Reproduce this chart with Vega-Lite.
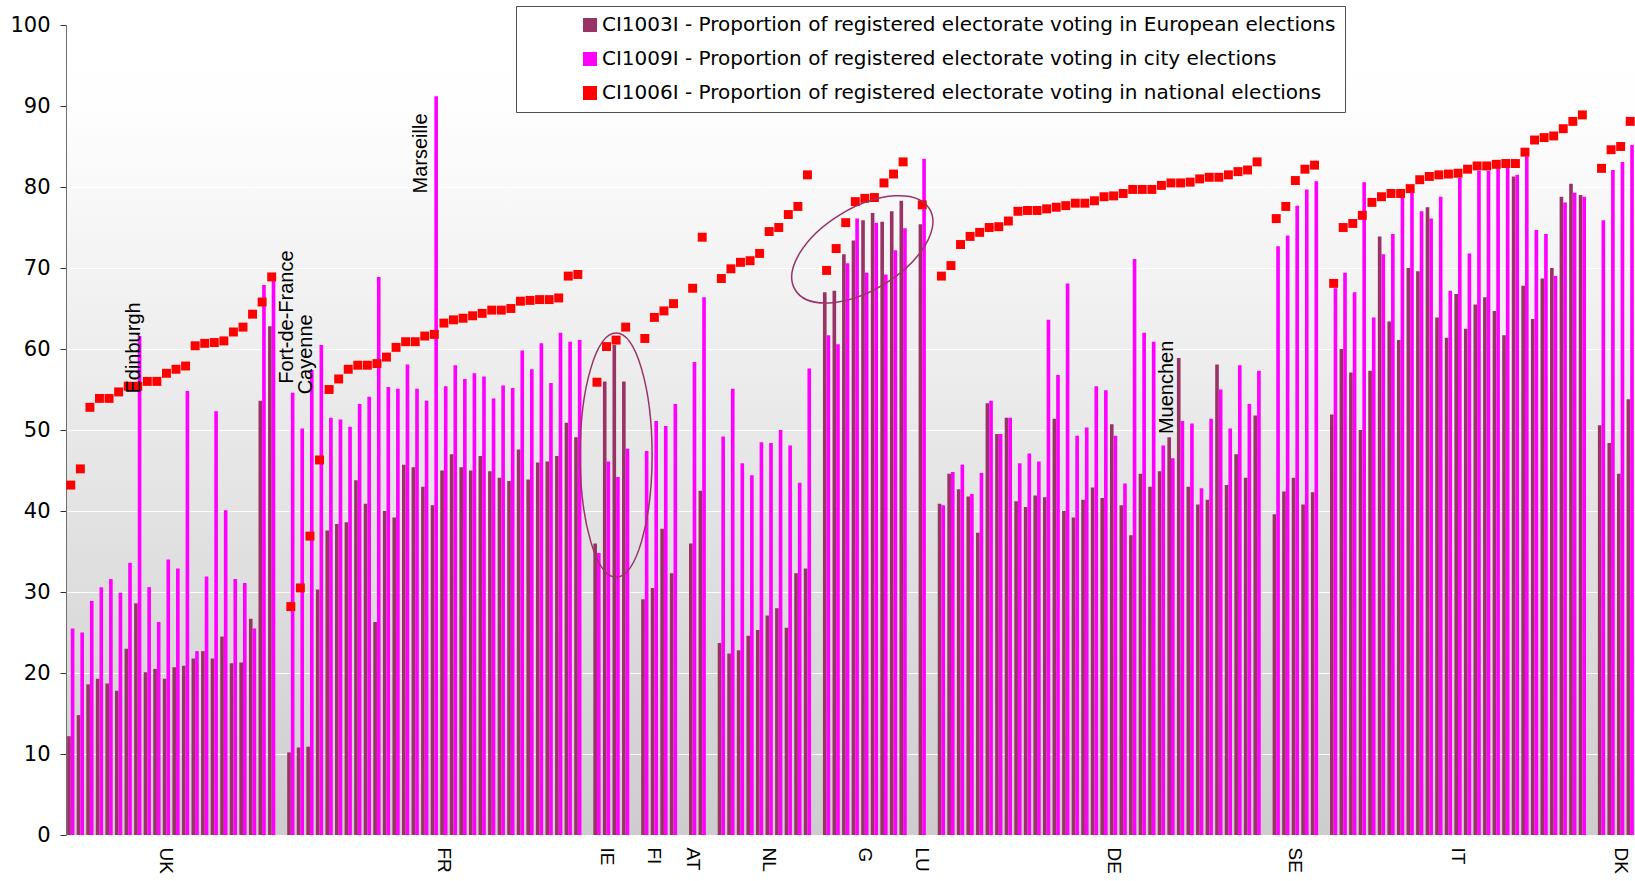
{
  "$schema": "https://vega.github.io/schema/vega-lite/v6.json",
  "width": 1569,
  "height": 810,
  "autosize": {"type": "none"},
  "padding": {"left": 66, "top": 25, "right": 0, "bottom": 46},
  "background": "white",
  "config": {
    "font": "Liberation Sans",
    "view": {"stroke": null, "fill": {"gradient": "linear", "x1": 0, "y1": 0, "x2": 0, "y2": 1, "stops": [{"offset": 0, "color": "#ffffff"}, {"offset": 0.1, "color": "#fefefe"}, {"offset": 1, "color": "#cdcdcd"}]}}
  },
  "data": {"values": [
    {"slot":1,"country":"UK","eu":12.2,"city":25.5,"nat":43.2},
    {"slot":2,"country":"UK","eu":14.8,"city":25.0,"nat":45.2},
    {"slot":3,"country":"UK","eu":18.6,"city":28.9,"nat":52.8},
    {"slot":4,"country":"UK","eu":19.3,"city":30.6,"nat":53.9},
    {"slot":5,"country":"UK","eu":18.7,"city":31.6,"nat":53.9},
    {"slot":6,"country":"UK","eu":17.8,"city":29.9,"nat":54.7},
    {"slot":7,"country":"UK","eu":23.0,"city":33.6,"nat":55.4},
    {"slot":8,"country":"UK","eu":28.6,"city":61.6,"nat":55.4},
    {"slot":9,"country":"UK","eu":20.1,"city":30.6,"nat":56.0},
    {"slot":10,"country":"UK","eu":20.5,"city":26.3,"nat":56.0},
    {"slot":11,"country":"UK","eu":19.3,"city":34.0,"nat":57.0},
    {"slot":12,"country":"UK","eu":20.7,"city":32.9,"nat":57.5},
    {"slot":13,"country":"UK","eu":20.9,"city":54.8,"nat":57.9},
    {"slot":14,"country":"UK","eu":21.8,"city":22.7,"nat":60.4},
    {"slot":15,"country":"UK","eu":22.7,"city":31.9,"nat":60.7},
    {"slot":16,"country":"UK","eu":21.8,"city":52.3,"nat":60.8},
    {"slot":17,"country":"UK","eu":24.5,"city":40.1,"nat":61.0},
    {"slot":18,"country":"UK","eu":21.2,"city":31.6,"nat":62.1},
    {"slot":19,"country":"UK","eu":21.3,"city":31.1,"nat":62.7},
    {"slot":20,"country":"UK","eu":26.7,"city":25.5,"nat":64.3},
    {"slot":21,"country":"UK","eu":53.6,"city":67.9,"nat":65.8},
    {"slot":22,"country":"UK","eu":62.8,"city":68.6,"nat":68.9},
    {"slot":24,"country":"FR","eu":10.2,"city":54.6,"nat":28.2},
    {"slot":25,"country":"FR","eu":10.8,"city":50.2,"nat":30.5},
    {"slot":26,"country":"FR","eu":10.9,"city":57.4,"nat":36.9},
    {"slot":27,"country":"FR","eu":30.3,"city":60.5,"nat":46.3},
    {"slot":28,"country":"FR","eu":37.6,"city":51.5,"nat":55.0},
    {"slot":29,"country":"FR","eu":38.4,"city":51.3,"nat":56.3},
    {"slot":30,"country":"FR","eu":38.6,"city":50.4,"nat":57.5},
    {"slot":31,"country":"FR","eu":43.8,"city":53.2,"nat":58.0},
    {"slot":32,"country":"FR","eu":40.9,"city":54.1,"nat":58.0},
    {"slot":33,"country":"FR","eu":26.3,"city":68.9,"nat":58.2},
    {"slot":34,"country":"FR","eu":40.0,"city":55.3,"nat":59.0},
    {"slot":35,"country":"FR","eu":39.2,"city":55.1,"nat":60.2},
    {"slot":36,"country":"FR","eu":45.7,"city":58.1,"nat":60.9},
    {"slot":37,"country":"FR","eu":45.4,"city":55.1,"nat":60.9},
    {"slot":38,"country":"FR","eu":43.0,"city":53.6,"nat":61.6},
    {"slot":39,"country":"FR","eu":40.7,"city":91.2,"nat":61.8},
    {"slot":40,"country":"FR","eu":45.0,"city":55.4,"nat":63.2},
    {"slot":41,"country":"FR","eu":47.0,"city":58.0,"nat":63.6},
    {"slot":42,"country":"FR","eu":45.4,"city":56.3,"nat":63.8},
    {"slot":43,"country":"FR","eu":45.0,"city":57.0,"nat":64.1},
    {"slot":44,"country":"FR","eu":46.8,"city":56.6,"nat":64.4},
    {"slot":45,"country":"FR","eu":44.9,"city":53.9,"nat":64.8},
    {"slot":46,"country":"FR","eu":44.1,"city":55.5,"nat":64.8},
    {"slot":47,"country":"FR","eu":43.7,"city":55.2,"nat":65.0},
    {"slot":48,"country":"FR","eu":47.6,"city":59.8,"nat":65.9},
    {"slot":49,"country":"FR","eu":43.9,"city":57.5,"nat":66.0},
    {"slot":50,"country":"FR","eu":46.0,"city":60.7,"nat":66.1},
    {"slot":51,"country":"FR","eu":46.1,"city":55.8,"nat":66.1},
    {"slot":52,"country":"FR","eu":46.8,"city":62.0,"nat":66.3},
    {"slot":53,"country":"FR","eu":50.9,"city":60.9,"nat":69.0},
    {"slot":54,"country":"FR","eu":49.1,"city":61.1,"nat":69.2},
    {"slot":56,"country":"IE","eu":36.0,"city":34.8,"nat":55.9},
    {"slot":57,"country":"IE","eu":56.0,"city":46.1,"nat":60.3},
    {"slot":58,"country":"IE","eu":60.5,"city":44.2,"nat":61.1},
    {"slot":59,"country":"IE","eu":56.0,"city":47.7,"nat":62.7},
    {"slot":61,"country":"FI","eu":29.1,"city":47.4,"nat":61.3},
    {"slot":62,"country":"FI","eu":30.5,"city":51.1,"nat":63.9},
    {"slot":63,"country":"FI","eu":37.8,"city":50.5,"nat":64.7},
    {"slot":64,"country":"FI","eu":32.3,"city":53.2,"nat":65.6},
    {"slot":66,"country":"AT","eu":36.0,"city":58.4,"nat":67.5},
    {"slot":67,"country":"AT","eu":42.5,"city":66.4,"nat":73.8},
    {"slot":69,"country":"NL","eu":23.7,"city":49.2,"nat":68.7},
    {"slot":70,"country":"NL","eu":22.4,"city":55.1,"nat":69.9},
    {"slot":71,"country":"NL","eu":22.8,"city":45.9,"nat":70.7},
    {"slot":72,"country":"NL","eu":24.6,"city":44.4,"nat":70.9},
    {"slot":73,"country":"NL","eu":25.3,"city":48.5,"nat":71.8},
    {"slot":74,"country":"NL","eu":27.1,"city":48.4,"nat":74.5},
    {"slot":75,"country":"NL","eu":28.0,"city":50.0,"nat":75.0},
    {"slot":76,"country":"NL","eu":25.6,"city":48.1,"nat":76.6},
    {"slot":77,"country":"NL","eu":32.3,"city":43.5,"nat":77.6},
    {"slot":78,"country":"NL","eu":32.9,"city":57.6,"nat":81.5},
    {"slot":80,"country":"G","eu":67.0,"city":61.7,"nat":69.7},
    {"slot":81,"country":"G","eu":67.2,"city":60.6,"nat":72.4},
    {"slot":82,"country":"G","eu":71.7,"city":70.6,"nat":75.6},
    {"slot":83,"country":"G","eu":73.4,"city":76.1,"nat":78.2},
    {"slot":84,"country":"G","eu":75.9,"city":69.4,"nat":78.6},
    {"slot":85,"country":"G","eu":76.8,"city":75.6,"nat":78.7},
    {"slot":86,"country":"G","eu":75.7,"city":69.2,"nat":80.5},
    {"slot":87,"country":"G","eu":77.0,"city":72.2,"nat":81.6},
    {"slot":88,"country":"G","eu":78.3,"city":74.9,"nat":83.1},
    {"slot":90,"country":"LU","eu":75.4,"city":83.5,"nat":77.8},
    {"slot":92,"country":"DE","eu":40.9,"city":40.7,"nat":69.0},
    {"slot":93,"country":"DE","eu":44.6,"city":44.8,"nat":70.3},
    {"slot":94,"country":"DE","eu":42.7,"city":45.7,"nat":72.9},
    {"slot":95,"country":"DE","eu":41.8,"city":42.1,"nat":73.9},
    {"slot":96,"country":"DE","eu":37.3,"city":44.7,"nat":74.4},
    {"slot":97,"country":"DE","eu":53.3,"city":53.6,"nat":75.0},
    {"slot":98,"country":"DE","eu":49.5,"city":49.5,"nat":75.1},
    {"slot":99,"country":"DE","eu":51.5,"city":51.5,"nat":75.8},
    {"slot":100,"country":"DE","eu":41.2,"city":45.9,"nat":77.0},
    {"slot":101,"country":"DE","eu":40.5,"city":47.1,"nat":77.1},
    {"slot":102,"country":"DE","eu":41.9,"city":46.1,"nat":77.1},
    {"slot":103,"country":"DE","eu":41.7,"city":63.6,"nat":77.3},
    {"slot":104,"country":"DE","eu":51.4,"city":56.8,"nat":77.5},
    {"slot":105,"country":"DE","eu":40.0,"city":68.1,"nat":77.7},
    {"slot":106,"country":"DE","eu":39.2,"city":49.3,"nat":78.0},
    {"slot":107,"country":"DE","eu":41.4,"city":50.3,"nat":78.0},
    {"slot":108,"country":"DE","eu":42.9,"city":55.4,"nat":78.3},
    {"slot":109,"country":"DE","eu":41.6,"city":54.9,"nat":78.8},
    {"slot":110,"country":"DE","eu":50.7,"city":49.3,"nat":78.9},
    {"slot":111,"country":"DE","eu":40.7,"city":43.4,"nat":79.2},
    {"slot":112,"country":"DE","eu":37.0,"city":71.1,"nat":79.7},
    {"slot":113,"country":"DE","eu":44.6,"city":62.0,"nat":79.7},
    {"slot":114,"country":"DE","eu":43.0,"city":60.9,"nat":79.7},
    {"slot":115,"country":"DE","eu":44.9,"city":48.1,"nat":80.2},
    {"slot":116,"country":"DE","eu":49.1,"city":46.5,"nat":80.5},
    {"slot":117,"country":"DE","eu":58.9,"city":51.1,"nat":80.5},
    {"slot":118,"country":"DE","eu":43.0,"city":50.8,"nat":80.6},
    {"slot":119,"country":"DE","eu":40.8,"city":42.8,"nat":81.0},
    {"slot":120,"country":"DE","eu":41.4,"city":51.4,"nat":81.2},
    {"slot":121,"country":"DE","eu":58.1,"city":55.0,"nat":81.2},
    {"slot":122,"country":"DE","eu":43.2,"city":50.2,"nat":81.5},
    {"slot":123,"country":"DE","eu":47.0,"city":58.0,"nat":81.9},
    {"slot":124,"country":"DE","eu":44.1,"city":53.2,"nat":82.1},
    {"slot":125,"country":"DE","eu":51.8,"city":57.3,"nat":83.1},
    {"slot":127,"country":"SE","eu":39.6,"city":72.7,"nat":76.1},
    {"slot":128,"country":"SE","eu":42.4,"city":74.0,"nat":77.6},
    {"slot":129,"country":"SE","eu":44.1,"city":77.7,"nat":80.8},
    {"slot":130,"country":"SE","eu":40.8,"city":79.7,"nat":82.2},
    {"slot":131,"country":"SE","eu":42.3,"city":80.7,"nat":82.7},
    {"slot":133,"country":"IT","eu":51.9,"city":67.5,"nat":68.1},
    {"slot":134,"country":"IT","eu":60.0,"city":69.4,"nat":75.0},
    {"slot":135,"country":"IT","eu":57.1,"city":67.0,"nat":75.5},
    {"slot":136,"country":"IT","eu":50.0,"city":80.6,"nat":76.5},
    {"slot":137,"country":"IT","eu":57.3,"city":63.9,"nat":78.1},
    {"slot":138,"country":"IT","eu":73.9,"city":71.7,"nat":78.8},
    {"slot":139,"country":"IT","eu":63.4,"city":74.2,"nat":79.2},
    {"slot":140,"country":"IT","eu":61.1,"city":78.9,"nat":79.2},
    {"slot":141,"country":"IT","eu":70.0,"city":79.3,"nat":79.8},
    {"slot":142,"country":"IT","eu":69.6,"city":77.0,"nat":80.9},
    {"slot":143,"country":"IT","eu":77.5,"city":76.1,"nat":81.3},
    {"slot":144,"country":"IT","eu":63.9,"city":78.8,"nat":81.5},
    {"slot":145,"country":"IT","eu":61.4,"city":67.2,"nat":81.6},
    {"slot":146,"country":"IT","eu":66.8,"city":81.1,"nat":81.7},
    {"slot":147,"country":"IT","eu":62.5,"city":71.8,"nat":82.2},
    {"slot":148,"country":"IT","eu":65.5,"city":82.0,"nat":82.6},
    {"slot":149,"country":"IT","eu":66.4,"city":82.0,"nat":82.6},
    {"slot":150,"country":"IT","eu":64.7,"city":82.4,"nat":82.8},
    {"slot":151,"country":"IT","eu":61.7,"city":82.4,"nat":82.9},
    {"slot":152,"country":"IT","eu":81.3,"city":81.5,"nat":82.9},
    {"slot":153,"country":"IT","eu":67.8,"city":83.8,"nat":84.3},
    {"slot":154,"country":"IT","eu":63.7,"city":74.7,"nat":85.8},
    {"slot":155,"country":"IT","eu":68.7,"city":74.2,"nat":86.1},
    {"slot":156,"country":"IT","eu":70.0,"city":69.0,"nat":86.3},
    {"slot":157,"country":"IT","eu":78.8,"city":78.1,"nat":87.2},
    {"slot":158,"country":"IT","eu":80.4,"city":79.3,"nat":88.1},
    {"slot":159,"country":"IT","eu":79.0,"city":78.8,"nat":88.9},
    {"slot":161,"country":"DK","eu":50.6,"city":75.9,"nat":82.3},
    {"slot":162,"country":"DK","eu":48.4,"city":82.1,"nat":84.6},
    {"slot":163,"country":"DK","eu":44.6,"city":83.1,"nat":85.0},
    {"slot":164,"country":"DK","eu":53.8,"city":85.2,"nat":88.1}
  ]},
  "layer": [
    {
      "transform": [{"fold": ["eu", "city"], "as": ["series", "value"]}],
      "mark": {"type": "bar", "opacity": 1},
      "encoding": {
        "x": {
          "field": "slot", "type": "ordinal",
          "scale": {"domain": [1,2,3,4,5,6,7,8,9,10,11,12,13,14,15,16,17,18,19,20,21,22,23,24,25,26,27,28,29,30,31,32,33,34,35,36,37,38,39,40,41,42,43,44,45,46,47,48,49,50,51,52,53,54,55,56,57,58,59,60,61,62,63,64,65,66,67,68,69,70,71,72,73,74,75,76,77,78,79,80,81,82,83,84,85,86,87,88,89,90,91,92,93,94,95,96,97,98,99,100,101,102,103,104,105,106,107,108,109,110,111,112,113,114,115,116,117,118,119,120,121,122,123,124,125,126,127,128,129,130,131,132,133,134,135,136,137,138,139,140,141,142,143,144,145,146,147,148,149,150,151,152,153,154,155,156,157,158,159,160,161,162,163,164], "paddingInner": 0.24, "paddingOuter": 0.12},
          "axis": {
            "title": null, "domain": false, "ticks": false, "grid": false,
            "labelAngle": 90, "labelAlign": "left", "labelBaseline": "middle",
            "labelPadding": 12, "labelFontSize": 19, "labelColor": "#000000",
            "labelOverlap": false, "labelBound": false, "labelFlush": false,
            "labelExpr": "datum.value == 11 ? 'UK' : datum.value == 40 ? 'FR' : datum.value == 57 ? 'IE' : datum.value == 62 ? 'FI' : datum.value == 66 ? 'AT' : datum.value == 74 ? 'NL' : datum.value == 84 ? 'G' : datum.value == 90 ? 'LU' : datum.value == 110 ? 'DE' : datum.value == 129 ? 'SE' : datum.value == 146 ? 'IT' : datum.value == 163 ? 'DK' : ''"
          }
        },
        "xOffset": {"field": "series", "type": "nominal", "scale": {"domain": ["eu", "city"], "paddingInner": 0, "paddingOuter": 0}},
        "y": {
          "field": "value", "type": "quantitative",
          "scale": {"domain": [0, 100], "nice": false},
          "axis": {
            "title": null, "values": [0,10,20,30,40,50,60,70,80,90,100],
            "grid": true, "gridColor": "#ffffff", "gridWidth": 1, "gridOpacity": 1,
            "domainColor": "#6e6e6e", "domainWidth": 1,
            "tickColor": "#333333", "tickSize": 6, "tickWidth": 1,
            "labelFont": "DejaVu Sans", "labelFontSize": 21, "labelColor": "#000000", "labelPadding": 10
          }
        },
        "color": {
          "field": "series", "type": "nominal",
          "scale": {"domain": ["eu", "city", "nat"], "range": ["#993366", "#ff00ff", "#ff0000"]},
          "legend": {
            "title": "\u00a0", "titleOrient": "left", "titleFontSize": 1, "titlePadding": 55,
            "orient": "none", "legendX": 450, "legendY": -19,
            "direction": "vertical",
            "strokeColor": "#505050", "fillColor": "#ffffff", "padding": 9,
            "labelFont": "DejaVu Sans", "labelFontSize": 20, "labelColor": "#000000", "labelLimit": 1200,
            "labelOffset": 2, "rowPadding": 14, "symbolType": "square", "symbolSize": 196,
            "symbolStrokeWidth": 0,
            "labelExpr": "datum.value == 'eu' ? 'CI1003I - Proportion of registered electorate voting in European elections' : datum.value == 'city' ? 'CI1009I - Proportion of registered electorate voting in city elections' : 'CI1006I - Proportion of registered electorate voting in national elections'",
            "encode": {"symbols": {"update": {"size": {"signal": "datum.value == 'nat' ? 70 : 196"}, "shape": {"value": "square"}, "strokeWidth": {"value": 0}, "opacity": {"value": 1}}}}
          }
        }
      }
    },
    {
      "transform": [{"fold": ["nat"], "as": ["series", "value"]}],
      "mark": {"type": "point", "shape": "square", "filled": true, "size": 80, "opacity": 1},
      "encoding": {
        "x": {"field": "slot", "type": "ordinal"},
        "y": {"field": "value", "type": "quantitative"},
        "color": {"field": "series", "type": "nominal"}
      }
    },
    {
      "data": {"values": [
        {"slot": 8, "label": "Edinburgh", "value": 54.5},
        {"slot": 24, "label": "Fort-de-France", "value": 55.7},
        {"slot": 26, "label": "Cayenne", "value": 54.4},
        {"slot": 38, "label": "Marseille", "value": 79.2},
        {"slot": 116, "label": "Muenchen", "value": 49.5}
      ]},
      "mark": {"type": "text", "angle": 270, "align": "left", "baseline": "middle", "fontSize": 20, "color": "#000000"},
      "encoding": {
        "x": {"field": "slot", "type": "ordinal", "bandPosition": 0},
        "y": {"field": "value", "type": "quantitative"},
        "text": {"field": "label"}
      }
    },
    {
      "data": {"values": [{"slot": 58, "value": 46.9}]},
      "mark": {"type": "point", "shape": "M 0.295 0 C 0.295 0.552 0.163 1 0 1 C -0.163 1 -0.295 0.552 -0.295 0 C -0.295 -0.552 -0.163 -1 0 -1 C 0.163 -1 0.295 -0.552 0.295 0 Z", "size": 59536, "filled": false, "stroke": "#993366", "strokeWidth": 1.5, "opacity": 1},
      "encoding": {
        "x": {"field": "slot", "type": "ordinal"},
        "y": {"field": "value", "type": "quantitative"}
      }
    },
    {
      "data": {"values": [{"slot": 84, "value": 72.3}]},
      "mark": {"type": "point", "shape": "M 1 0 C 1 0.29 0.552 0.525 0 0.525 C -0.552 0.525 -1 0.29 -1 0 C -1 -0.29 -0.552 -0.525 0 -0.525 C 0.552 -0.525 1 -0.29 1 0 Z", "size": 24600, "angle": -31, "filled": false, "stroke": "#993366", "strokeWidth": 1.5, "opacity": 1},
      "encoding": {
        "x": {"field": "slot", "type": "ordinal", "bandPosition": 0.15},
        "y": {"field": "value", "type": "quantitative"}
      }
    }
  ]
}
